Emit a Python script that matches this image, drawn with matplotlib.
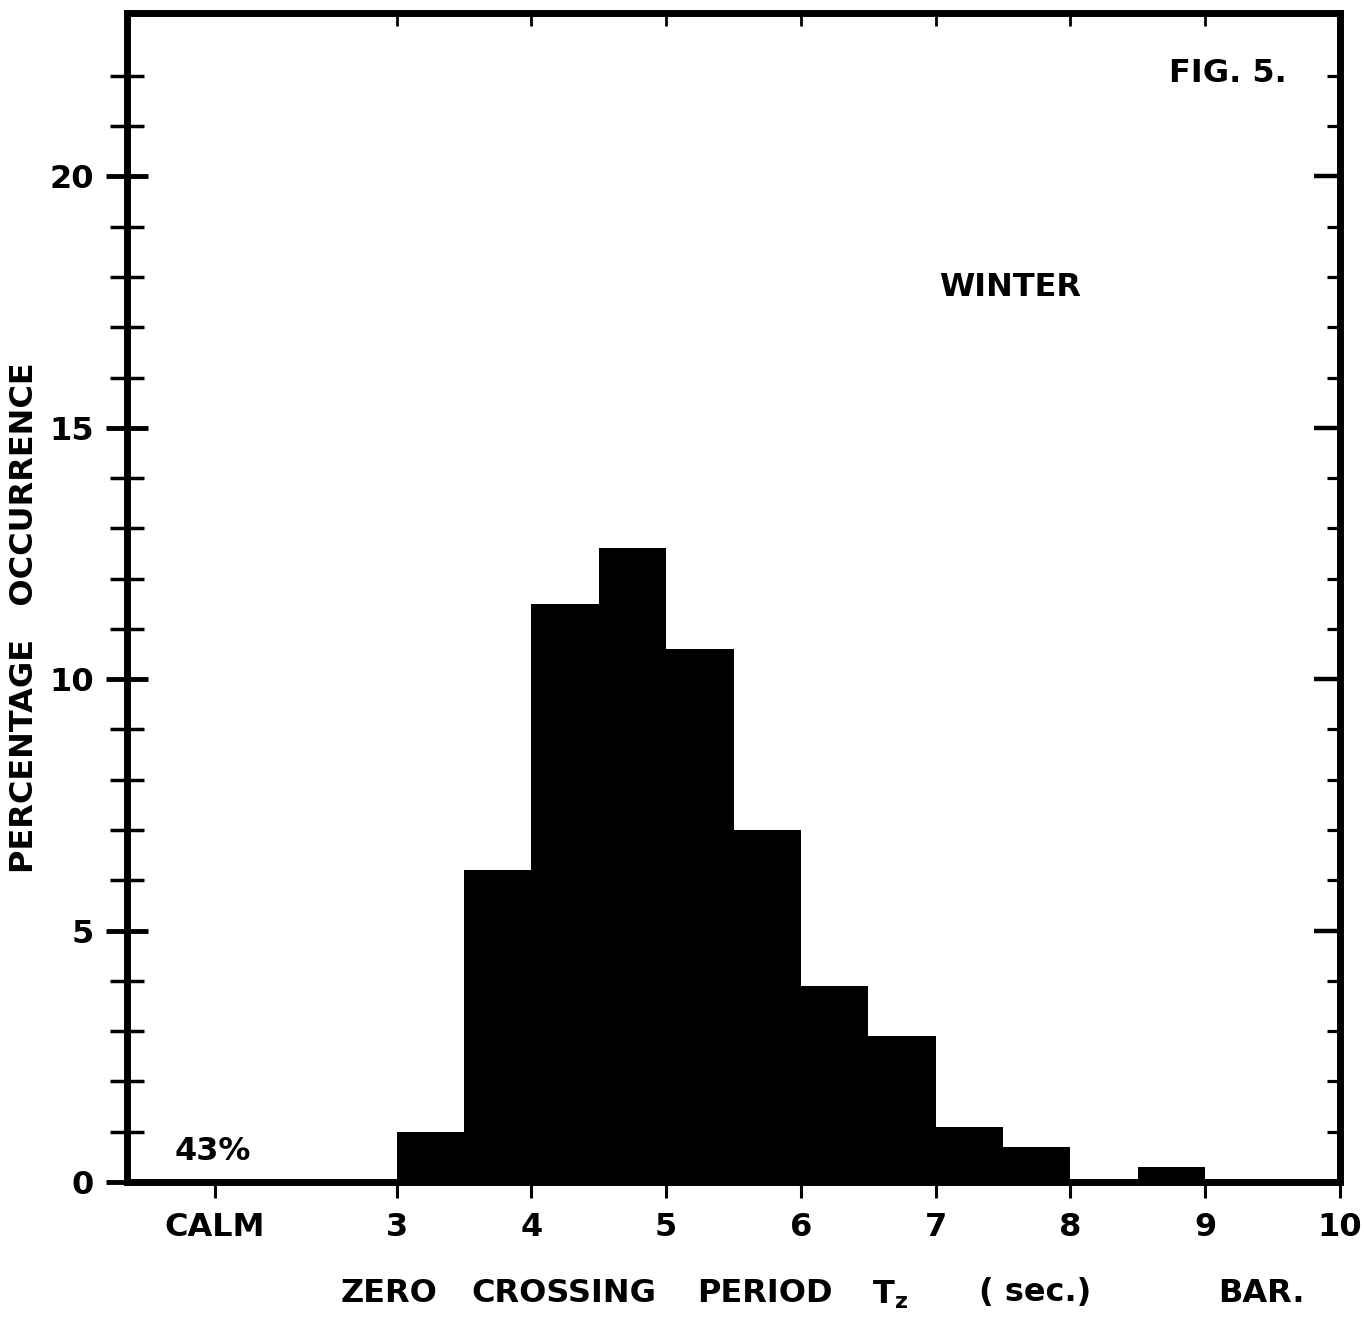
import matplotlib.pyplot as plt

plt.rcParams['font.family'] = ['DejaVu Sans']
plt.rcParams['font.weight'] = 'bold'

# percentage occurrence per half-second bin of zero crossing period (winter)
bin_left = [3.0, 3.5, 4.0, 4.5, 5.0, 5.5, 6.0, 6.5, 7.0, 7.5, 8.0, 8.5, 9.0, 9.5]
pct_occurrence = [1.0, 6.2, 11.5, 12.6, 10.6, 7.0, 3.9, 2.9, 1.1, 0.7, 0.0, 0.3, 0.0, 0.0]
calm_label = '43%'

period_ticks = [3, 4, 5, 6, 7, 8, 9, 10]
pct_major = [0, 5, 10, 15, 20]
pct_minor = list(range(0, 23))

W, H = 1364, 1318
FS = 23


def fxy(x, y):
    # pixel position -> figure fraction
    return x / W, 1 - y / H


fig = plt.figure(figsize=(W / 100, H / 100), dpi=100)
ax = fig.add_axes([127 / W, 1 - 1182 / H, (1340 - 127) / W, (1182 - 13) / H])

ax.bar(bin_left, pct_occurrence, width=0.5, align='edge', color='black', linewidth=0)

ax.set_xlim(1.0, 10.0)
ax.set_ylim(0, 23.25)

for s in ax.spines.values():
    s.set_linewidth(5)

# bottom axis: CALM slot plus period ticks
calm_x = 1.65
ax.set_xticks([calm_x] + period_ticks)
ax.set_xticklabels(['CALM'] + [str(t) for t in period_ticks], fontsize=FS, fontweight='bold')
ax.tick_params(axis='x', direction='out', length=11.5, width=2.2, pad=10)
xt = ax.xaxis.get_major_ticks()
xt[0].tick1line.set_visible(False)
xt[-1].tick1line.set_visible(False)

# left axis: ticks crossing the spine
ax.set_yticks(pct_major)
ax.set_yticks(pct_minor, minor=True)
ax.set_yticklabels([str(v) for v in pct_major], fontsize=FS, fontweight='bold')
ax.tick_params(axis='y', which='major', direction='inout', length=30, width=3.5, pad=9)
ax.tick_params(axis='y', which='minor', direction='inout', length=24, width=2.5)

# right side ticks pointing inward
axr = ax.twinx()
axr.set_ylim(ax.get_ylim())
axr.set_yticks(pct_major)
axr.set_yticks(pct_minor, minor=True)
axr.tick_params(axis='y', which='major', direction='in', length=19, width=3.2, labelright=False)
axr.tick_params(axis='y', which='minor', direction='in', length=9.5, width=2.3, labelright=False)
for s in axr.spines.values():
    s.set_visible(False)

# top ticks pointing inward
axt = ax.twiny()
axt.set_xlim(ax.get_xlim())
axt.set_xticks(period_ticks[:-1])
axt.tick_params(axis='x', direction='in', length=9, width=2, labeltop=False)
for s in axt.spines.values():
    s.set_visible(False)

txt = dict(fontsize=FS, fontweight='bold', ha='center', va='center')
fig.text(*fxy(1228, 73), 'FIG. 5.', **txt)
fig.text(*fxy(1010, 288), 'WINTER', **txt)
fig.text(*fxy(213, 1152), calm_label, **txt)
fig.text(*fxy(25, 618), 'PERCENTAGE   OCCURRENCE', rotation=90, **txt)

fig.text(*fxy(389, 1293), 'ZERO', **txt)
fig.text(*fxy(564, 1293), 'CROSSING', **txt)
fig.text(*fxy(765, 1293), 'PERIOD', **txt)
fig.text(*fxy(890, 1295), r'$\mathbf{T_z}$', **txt)
fig.text(*fxy(1035, 1293), '( sec.)', **txt)
fig.text(*fxy(1261, 1293), 'BAR.', **txt)

fig.savefig('out.png', dpi=100)
